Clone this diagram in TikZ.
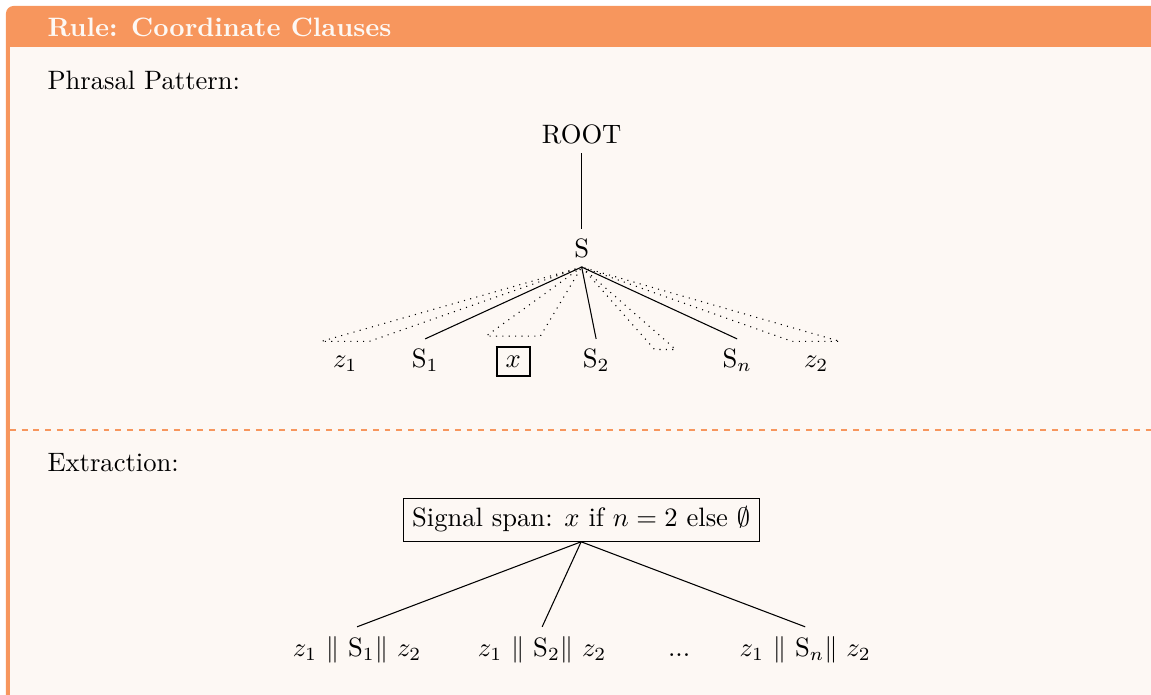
\documentclass[tikz,border=0pt]{standalone}
\usepackage{tikz}
\definecolor{ruleframe}{RGB}{247,150,93}
\definecolor{ruleback}{RGB}{253,248,244}
\newcommand{\yleaf}{-4.849}
\newcommand{\ybot}{-8.668}
\tikzset{
  lbl/.style={anchor=base,inner sep=3.33pt},
  roofleaf/.style={lbl,text height=#1},
  roof/.style={dotted,line width=0.4pt},
  branch/.style={line width=0.4pt},
  heading/.style={anchor=base west,inner sep=0pt},
}

\begin{document}
\begin{tikzpicture}[x=1cm,y=1cm]
\useasboundingbox (0,0) rectangle (15.205,-9.168);

%% ---------------- frame ----------------
\fill[ruleframe,rounded corners=1mm] (0.079,-9.3) rectangle (15.4,-0.079);
\fill[ruleback] (0.132,-0.621) rectangle (15.4,-9.25);
\node[heading,text=ruleback,font=\bfseries] (title) at (0.621,-0.476) {Rule: Coordinate Clauses};
\draw[ruleframe,dash pattern=on 2.2pt off 2.2pt,line width=0.5pt] (0.132,-5.682) -- (15.4,-5.682);

%% ---------------- phrasal pattern ----------------
\node[heading] (phrasal) at (0.621,-1.176) {Phrasal Pattern:};
\node[lbl] (root) at (7.684,-1.890) {ROOT};
\node[lbl] (s) at (7.684,-3.396) {S};
\draw[branch] (root) -- (s);

\node[roofleaf=6.1pt,minimum width=0.62cm] (z1) at (4.560,\yleaf) {$z_1$};
\node[lbl] (s1) at (5.616,\yleaf) {S$_1$};
\node[lbl] (x) at (6.780,\yleaf) {\setlength{\fboxrule}{0.8pt}\fbox{$x$}};
\node[lbl] (s2) at (7.875,\yleaf) {S$_2$};
\node[roofleaf=3.07pt,minimum width=0.265cm] (dots) at (8.787,\yleaf) {};
\node[lbl] (sn) at (9.738,\yleaf) {S$_n$};
\node[roofleaf=6.1pt,minimum width=0.62cm] (z2) at (10.782,\yleaf) {$z_2$};

\foreach \c in {s1,s2,sn}
  \draw[branch] (s.south) -- (\c.north);
\foreach \c in {z1,x,dots,z2}
  \draw[roof] (s.south) -- (\c.north west) -- (\c.north east) -- cycle;

%% ---------------- extraction ----------------
\node[heading] (extraction) at (0.621,-6.224) {Extraction:};
\node[draw,branch] (signal) at (7.677,-6.865) {Signal span: $x$ if $n=2$ else $\emptyset$};

\node[lbl] (e1) at (4.717,\ybot) {$z_1$ $\|$ S$_1$$\|$ $z_2$};
\node[lbl] (e2) at (7.162,\ybot) {$z_1$ $\|$ S$_2$$\|$ $z_2$};
\node[lbl] (edots) at (8.972,\ybot) {...};
\node[lbl] (en) at (10.637,\ybot) {$z_1$ $\|$ S$_n$$\|$ $z_2$};

\foreach \c in {e1,e2,en}
  \draw[branch] (signal.south) -- (\c.north);

\end{tikzpicture}
\end{document}
